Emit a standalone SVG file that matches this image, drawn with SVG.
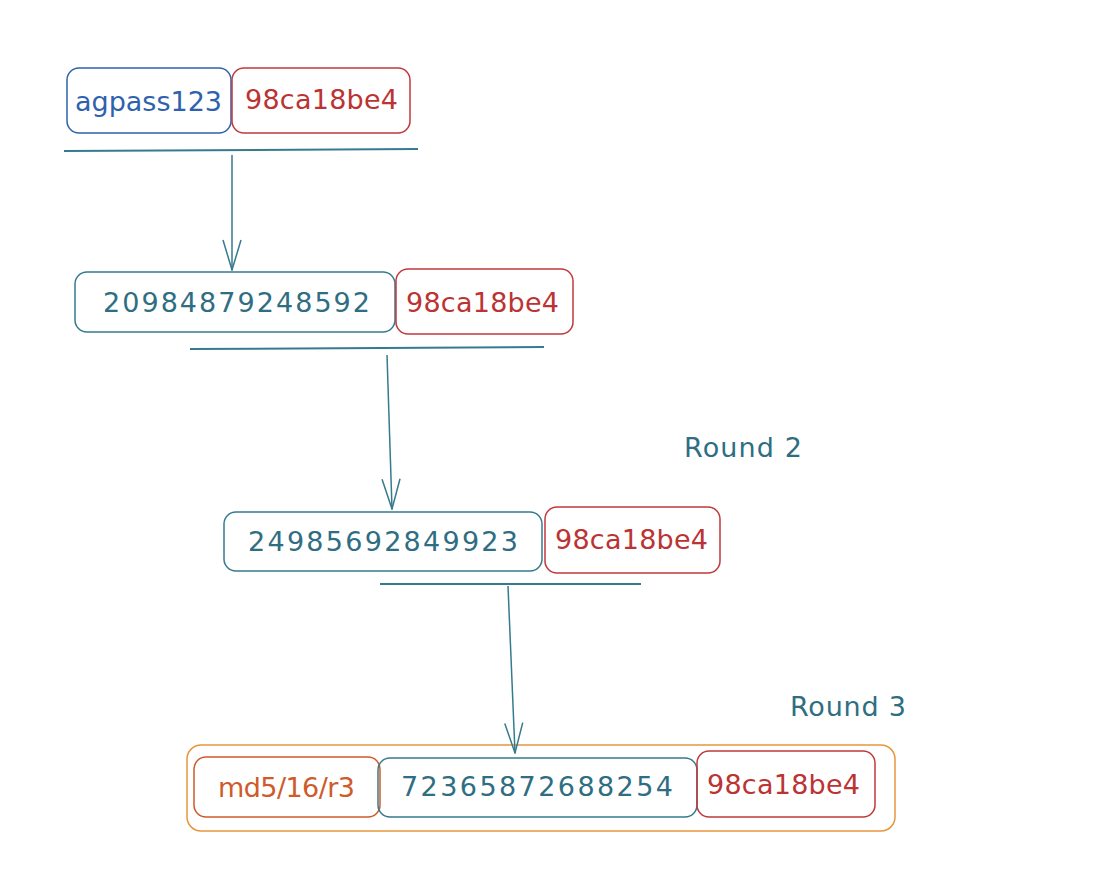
<svg xmlns="http://www.w3.org/2000/svg" width="1102" height="896" viewBox="0 0 1102 896">
<defs>
<style>
.box{fill:none;stroke-width:1.5}
.blue{stroke:#2f62ad}
.red{stroke:#c0393b}
.teal{stroke:#367a8e}
.orange{stroke:#e8963c}
.orred{stroke:#cf5a2a}
text{font-family:"DejaVu Sans","Liberation Sans",Arial,sans-serif;font-size:27px;dominant-baseline:central;text-anchor:start}
.tb{fill:#2f62ad}
.tr{fill:#bb3333}
.tt{fill:#2f6e82}
.to{fill:#cf5a2a}
.line{stroke:#367a8e;stroke-width:2;fill:none}
.conn{stroke:#367a8e;stroke-width:1.5;fill:none}
</style>
<marker id="ah" viewBox="0 0 32 20" refX="31" refY="10" markerWidth="32" markerHeight="20" orient="auto" markerUnits="userSpaceOnUse">
<path d="M1 1 L31 10 L1 19" fill="none" stroke="#367a8e" stroke-width="1.5"/>
</marker>
</defs>
<rect width="1102" height="896" fill="#ffffff"/>
<g id="row1-pass">
<rect class="box blue" x="67" y="68" width="164" height="65" rx="12"/>
<text class="tb" x="75" y="101" textLength="147" lengthAdjust="spacing">agpass123</text>
</g>
<g id="row1-salt">
<rect class="box red" x="232" y="68" width="178" height="65" rx="12"/>
<text class="tr" x="245" y="99" textLength="153" lengthAdjust="spacing">98ca18be4</text>
</g>
<g id="row2-hash">
<rect class="box teal" x="75" y="272" width="320" height="60" rx="12"/>
<text class="tt" x="103" y="302" textLength="267" lengthAdjust="spacing">20984879248592</text>
</g>
<g id="row2-salt">
<rect class="box red" x="396" y="269" width="177" height="65" rx="12"/>
<text class="tr" x="406" y="302" textLength="153" lengthAdjust="spacing">98ca18be4</text>
</g>
<g id="row3-hash">
<rect class="box teal" x="224" y="512" width="318" height="59" rx="12"/>
<text class="tt" x="248" y="541" textLength="270" lengthAdjust="spacing">24985692849923</text>
</g>
<g id="row3-salt">
<rect class="box red" x="545" y="507" width="175" height="66" rx="12"/>
<text class="tr" x="555" y="539" textLength="153" lengthAdjust="spacing">98ca18be4</text>
</g>
<g id="round2">
<text class="tt" x="684" y="447" textLength="118" lengthAdjust="spacing">Round 2</text>
</g>
<g id="round3">
<text class="tt" x="790" y="706" textLength="116" lengthAdjust="spacing">Round 3</text>
</g>
<g id="row4-container">
<rect class="box orange" x="187" y="745" width="708" height="86" rx="14"/>
</g>
<g id="row4-prefix">
<rect class="box orred" x="194" y="757" width="186" height="60" rx="12"/>
<text class="to" x="218" y="787" textLength="137" lengthAdjust="spacing">md5/16/r3</text>
</g>
<g id="row4-hash">
<rect class="box teal" x="378" y="758" width="319" height="59" rx="12"/>
<text class="tt" x="401" y="786" textLength="272" lengthAdjust="spacing">72365872688254</text>
</g>
<g id="row4-salt">
<rect class="box red" x="697" y="751" width="178" height="66" rx="12"/>
<text class="tr" x="707" y="784" textLength="153" lengthAdjust="spacing">98ca18be4</text>
</g>
<g id="connectors">
<path class="line" d="M64 151 L418 149"/>
<path class="line" d="M190 349 L544 347"/>
<path class="line" d="M380 584 L641 584"/>
<path class="conn" d="M232 155 L232 270" marker-end="url(#ah)"/>
<path class="conn" d="M387 355 L392 509" marker-end="url(#ah)"/>
<path class="conn" d="M508 586 L515 753" marker-end="url(#ah)"/>
</g>
</svg>
